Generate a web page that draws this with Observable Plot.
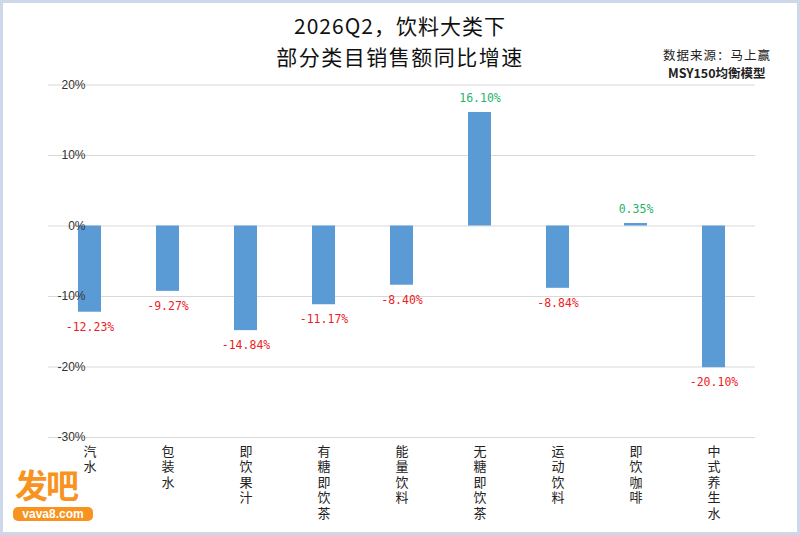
<!DOCTYPE html>
<html>
<head>
<meta charset="utf-8">
<script src="https://cdn.jsdelivr.net/npm/d3@7"></script>
<script src="https://cdn.jsdelivr.net/npm/@observablehq/plot@0.6"></script>
<style>
  html, body { margin: 0; padding: 0; background: #fff; }
  #page { position: relative; width: 800px; height: 535px; overflow: hidden; font-family: "Noto Sans CJK SC", sans-serif; }
  #frame { position: absolute; left: 0; top: 0; width: 800px; height: 535px; box-sizing: border-box; border: 3px solid #cdd9ea; pointer-events: none; }
  .t { position: absolute; white-space: nowrap; color: #111; }
  #title1 { left: 0; width: 800px; text-align: center; top: 10px; font-size: 21px; line-height: 30px; letter-spacing: 1px; }
  #title2 { left: 0; width: 800px; text-align: center; top: 41px; font-size: 21px; line-height: 30px; letter-spacing: 1.5px; }
  #src1 { left: 663px; top: 46px; font-size: 12.5px; line-height: 18px; letter-spacing: 1px; color: #222; }
  #src2 { left: 668px; top: 64px; font-size: 12.5px; line-height: 18px; color: #222; font-weight: bold; }
  #wm1 { left: 15px; top: 472px; font-family: "Liberation Sans", "Noto Sans CJK SC", sans-serif; font-size: 33px; line-height: 30px; height: 30px; color: #f7931e; font-weight: bold; letter-spacing: -2px; }
  #wm2 { left: 13px; top: 507px; width: 80px; height: 14px; border-radius: 5px; background: #f7931e; color: #fff; font-family: "Liberation Sans", Arial, sans-serif; font-size: 12px; line-height: 14px; text-align: center; font-weight: bold; }
  svg { position: absolute; left: 0; top: 0; }
</style>
</head>
<body>
<div id="page">
  <div id="chart"></div>
  <div class="t" id="title1">2026Q2，饮料大类下</div>
  <div class="t" id="title2">部分类目销售额同比增速</div>
  <div class="t" id="src1">数据来源：马上赢</div>
  <div class="t" id="src2">MSY150均衡模型</div>
  <div class="t" id="wm1">发吧</div>
  <div class="t" id="wm2">vava8.com</div>
  <div id="frame"></div>
</div>
<script>
const categories = ["汽水", "包装水", "即饮果汁", "有糖即饮茶", "能量饮料", "无糖即饮茶", "运动饮料", "即饮咖啡", "中式养生水"];
const growth = [-12.23, -9.27, -14.84, -11.17, -8.40, 16.10, -8.84, 0.35, -20.10];
const yTicks = [20, 10, 0, -10, -20, -30];

const data = categories.map((c, i) => ({cat: c, v: growth[i]}));
const pos = data.filter(d => d.v >= 0);
const neg = data.filter(d => d.v < 0);
const fmt = v => v.toFixed(2) + "%";

const chart = Plot.plot({
  width: 800,
  height: 535,
  marginLeft: 48,
  marginRight: 45,
  marginTop: 84.5,
  marginBottom: 98,
  style: {background: "transparent", overflow: "visible"},
  x: {type: "band", domain: categories, paddingInner: 0.7, paddingOuter: 0.35, axis: null},
  y: {domain: [-30, 20], axis: null},
  marks: [
    Plot.ruleY(yTicks, {stroke: "#d9d9d9", strokeWidth: 1}),
    Plot.barY(data, {x: "cat", y: "v", fill: "#5b9bd5"}),
    Plot.text(yTicks, {
      x: null, y: d => d, text: d => d + "%", frameAnchor: "left", textAnchor: "end", dx: 37,
      fontFamily: "Liberation Sans, Arial, sans-serif", fontSize: 12, fill: "#333"
    }),
    Plot.text(pos, {x: "cat", y: "v", text: d => fmt(d.v), dy: -14, fill: "#26b36b",
      fontFamily: "DejaVu Sans Mono, monospace", fontSize: 11.5}),
    Plot.text(neg, {x: "cat", y: "v", text: d => fmt(d.v), dy: 15, fill: "#ee1c25",
      fontFamily: "DejaVu Sans Mono, monospace", fontSize: 11.5}),
    Plot.text(categories, {
      x: d => d, y: () => -30, text: d => Array.from(d).join("\n"),
      lineAnchor: "top", dy: 7, lineHeight: 1.2, fontSize: 13, fill: "#222",
      fontFamily: "Liberation Sans, Noto Sans CJK SC, sans-serif"
    })
  ]
});
document.getElementById("chart").appendChild(chart);
</script>
</body>
</html>
